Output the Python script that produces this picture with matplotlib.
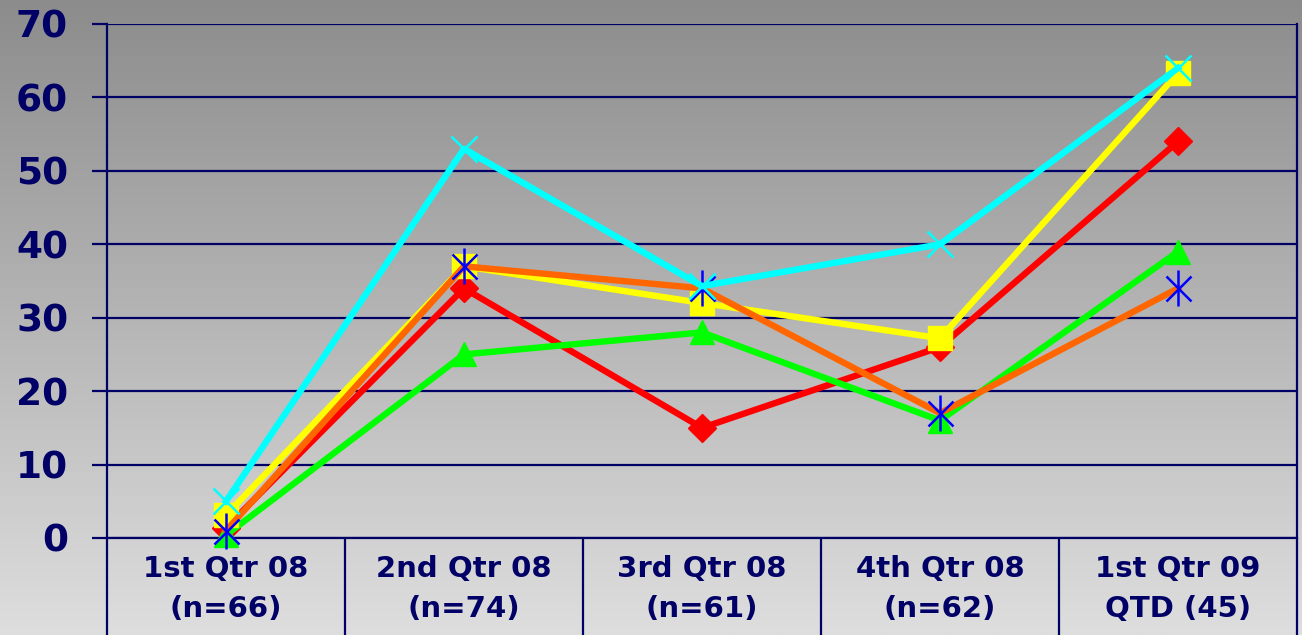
import numpy as np
import matplotlib
matplotlib.use('Agg')
import matplotlib.pyplot as plt

categories = ['1st Qtr 08\n(n=66)', '2nd Qtr 08\n(n=74)', '3rd Qtr 08\n(n=61)',
              '4th Qtr 08\n(n=62)', '1st Qtr 09\nQTD (45)']
red_vals = [1.4, 34, 15, 26, 54]
green_vals = [0.4, 25, 28, 16, 39]
yellow_vals = [3.1, 37, 32, 27.2, 63.3]
orange_vals = [1, 37, 34, 17, 34]
cyan_vals = [5, 53, 34.3, 40, 64]

navy = '#000066'

fig = plt.figure(figsize=(13.02, 6.35), dpi=100)

# gradient background over the whole figure
bg = fig.add_axes([0, 0, 1, 1], zorder=-10)
grad = np.linspace(0, 1, 256).reshape(-1, 1)
bg.imshow(grad, aspect='auto', cmap=matplotlib.colors.LinearSegmentedColormap.from_list(
    'g', ['#8c8c8c', '#dedede']), extent=[0, 1, 0, 1], origin='upper')
bg.axis('off')

ax = fig.add_axes([107 / 1302, 1 - 538 / 635, 1190 / 1302, 514 / 635])
ax.patch.set_alpha(0)

x = np.arange(len(categories))
lw = 4.6
ax.plot(x, red_vals, color='#ff0000', lw=lw, marker='D', ms=14, zorder=3, clip_on=False)
ax.plot(x, green_vals, color='#00ff00', lw=lw, marker='^', ms=17, zorder=4, clip_on=False)
ax.plot(x, yellow_vals, color='#ffff00', lw=lw, marker='s', ms=17, zorder=5, clip_on=False)
ax.plot(x, orange_vals, color='#ff6600', lw=lw, zorder=6, clip_on=False)
ax.plot(x, orange_vals, ls='none', color='#0000ff', marker='x', ms=18, mew=1.8, zorder=7, clip_on=False)
ax.plot(x, orange_vals, ls='none', color='#0000ff', marker='|', ms=26, mew=1.8, zorder=7, clip_on=False)
ax.plot(x, cyan_vals, color='#00ffff', lw=lw, marker='x', ms=19, mew=1.8, zorder=8, clip_on=False)

ax.set_xlim(-0.5, 4.5)
ax.set_ylim(0, 70)
ax.set_yticks(range(0, 71, 10))
ax.grid(axis='y', color=navy, lw=1.6)
ax.set_axisbelow(True)

ax.set_xticks(x)
ax.set_xticklabels(categories, linespacing=1.55)
ax.set_xticks(np.arange(-0.5, 5, 1), minor=True)
ax.tick_params(axis='x', which='major', length=0, pad=12, labelsize=21, labelcolor=navy)
ax.tick_params(axis='x', which='minor', length=75, width=1.6, color=navy, direction='out')
ax.tick_params(axis='y', length=11, width=1.6, color=navy, labelsize=27, labelcolor=navy, pad=17)
for lab in ax.get_xticklabels() + ax.get_yticklabels():
    lab.set_fontweight('bold')

for s in ['left', 'bottom', 'right']:
    ax.spines[s].set_color(navy)
    ax.spines[s].set_linewidth(1.6)
ax.spines['top'].set_visible(False)

fig.savefig('out.png', dpi=100)
